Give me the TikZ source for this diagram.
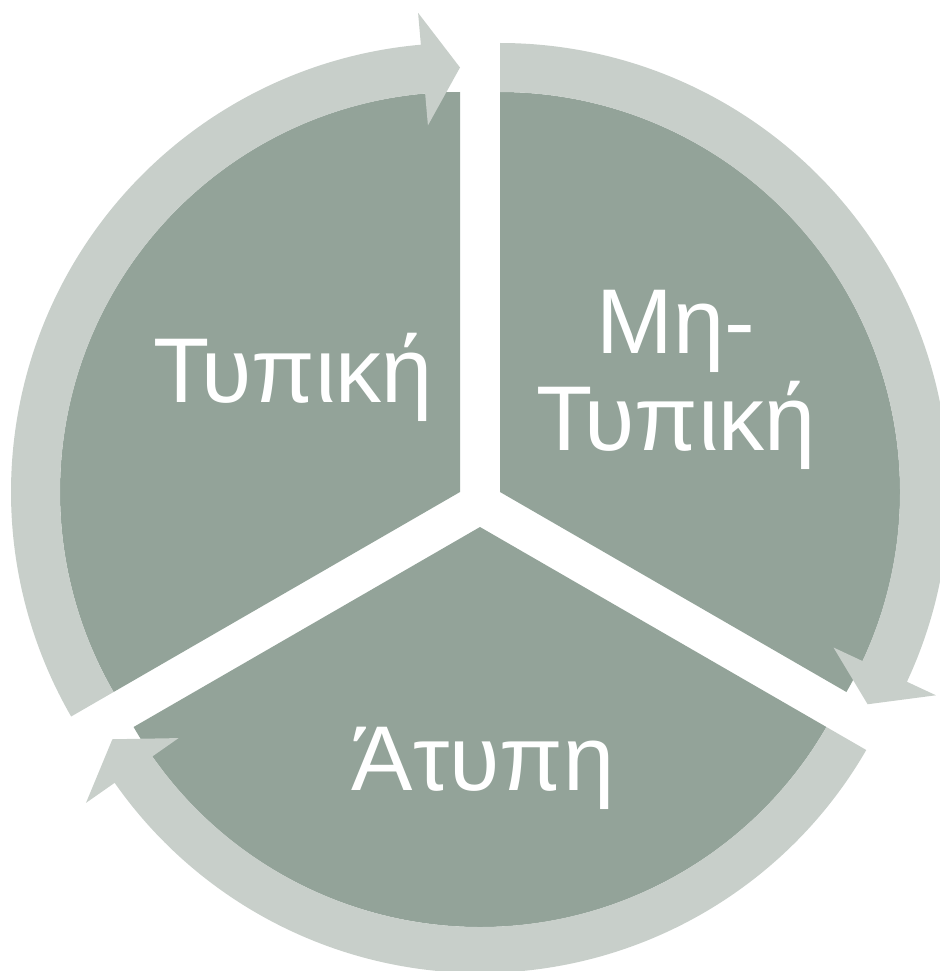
\documentclass[tikz,border=0pt]{standalone}
\usepackage{fontspec}
\setmainfont{Liberation Sans}
\usetikzlibrary{calc}
\definecolor{segcol}{RGB}{147,163,153}
\definecolor{ringcol}{RGB}{200,207,202}
\begin{document}
\begin{tikzpicture}[x=1pt,y=1pt,
  seg/.style={fill=segcol},
  ringarrow/.style={fill=ringcol},
  lbl/.style={text=white,font=\fontsize{92}{97}\selectfont,inner sep=0pt,align=center}]
\useasboundingbox (0,0) rectangle (939,-971);
\coordinate (A1) at (460,-492);
\coordinate (A2) at (500,-492);
\coordinate (A3) at (480,-527);
% segments
\fill[seg] (A1) -- ($(A1)+(90:400)$) arc[start angle=90,end angle=210,radius=400] -- cycle;
\fill[seg] (A2) -- ($(A2)+(-30:400)$) arc[start angle=-30,end angle=90,radius=400] -- cycle;
\fill[seg] (A3) -- ($(A3)+(210:400)$) arc[start angle=210,end angle=330,radius=400] -- cycle;
% ring arrows
\fill[ringarrow] ($(A1)+(210:449)$) arc[start angle=210,end angle=95,radius=449]
  -- ($(A1)+(95:481)$) -- ($(A1)+(90:424.5)$) -- ($(A1)+(95:368)$) -- ($(A1)+(95:400)$)
  arc[start angle=95,end angle=210,radius=400] -- cycle;
\fill[ringarrow] ($(A2)+(90:449)$) arc[start angle=90,end angle=-25,radius=449]
  -- ($(A2)+(-25:481)$) -- ($(A2)+(-30:424.5)$) -- ($(A2)+(-25:368)$) -- ($(A2)+(-25:400)$)
  arc[start angle=-25,end angle=90,radius=400] -- cycle;
\fill[ringarrow] ($(A3)+(330:446)$) arc[start angle=330,end angle=215,radius=446]
  -- ($(A3)+(215:481)$) -- ($(A3)+(210:424.5)$) -- ($(A3)+(215:368)$) -- ($(A3)+(215:400)$)
  arc[start angle=215,end angle=330,radius=400] -- cycle;
% labels
\node[lbl,anchor=base] (t1) at (293,-402) {Τυπική};
\node[lbl,anchor=base] (t2) at (676,-450) {Μη-\\Τυπική};
\node[lbl,anchor=base] (t3) at (483,-790) {Άτυπη};
\end{tikzpicture}
\end{document}
